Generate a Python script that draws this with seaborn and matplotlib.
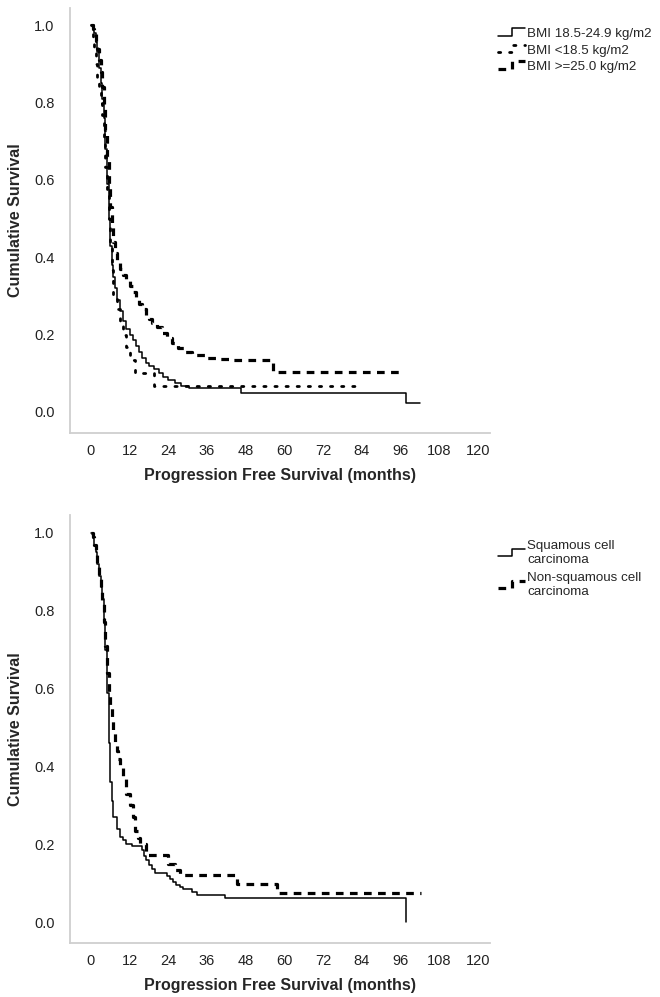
import numpy as np
import pandas as pd
import matplotlib
matplotlib.use("Agg")
import matplotlib.pyplot as plt
import seaborn as sns
from matplotlib.lines import Line2D
from matplotlib.legend_handler import HandlerLine2D
from matplotlib.ticker import FormatStrFormatter

# ---------------- data ----------------
# Top panel: BMI groups
bmi_normal_t = [0, 0.5, 1.0, 1.5, 2.0, 2.5, 3.0, 3.5, 4.0, 4.5, 5.0, 5.5, 6.0, 6.5, 7.0, 7.5, 8.0,
                9.0, 10.0, 11.0, 12.0, 13.0, 14.0, 15.0, 16.0, 17.0, 18.0, 19.5, 21.0, 22.5, 24.0,
                26.0, 28.0, 30.5, 46.7, 97.7, 102.0]
bmi_normal_s = [1.0, 0.99, 0.98, 0.96, 0.93, 0.89, 0.85, 0.81, 0.76, 0.68, 0.59, 0.50, 0.43, 0.38,
                0.35, 0.32, 0.29, 0.26, 0.235, 0.215, 0.20, 0.185, 0.17, 0.155, 0.14, 0.126, 0.118,
                0.112, 0.10, 0.09, 0.082, 0.075, 0.068, 0.061, 0.049, 0.024, 0.024]

bmi_under_t = [0, 0.5, 1.0, 1.5, 2.0, 2.5, 3.0, 3.5, 4.0, 4.5, 5.0, 5.5, 6.0, 6.5, 7.0, 8.0, 9.0,
               10.0, 11.0, 12.0, 13.6, 19.5, 82.0]
bmi_under_s = [1.0, 0.967, 0.933, 0.9, 0.867, 0.833, 0.8, 0.767, 0.7, 0.633, 0.567, 0.5, 0.433,
               0.367, 0.3, 0.267, 0.233, 0.2, 0.167, 0.133, 0.1, 0.067, 0.067]

bmi_over_t = [0, 0.5, 1, 1.5, 2, 2.5, 3, 3.5, 4, 4.5, 5, 5.5, 6, 6.5, 7, 7.5, 8, 9, 10, 11, 12,
              13, 14, 15, 16, 17, 18, 19, 20.5, 22, 23.5, 25, 27, 29, 31.5, 36, 40, 44, 56.5, 96]
bmi_over_s = [1, 0.99, 0.98, 0.96, 0.94, 0.91, 0.88, 0.84, 0.79, 0.73, 0.66, 0.59, 0.53, 0.48,
              0.44, 0.41, 0.39, 0.37, 0.355, 0.34, 0.325, 0.31, 0.295, 0.28, 0.265, 0.25, 0.24,
              0.23, 0.22, 0.205, 0.19, 0.178, 0.165, 0.155, 0.147, 0.14, 0.137, 0.134, 0.104, 0.104]

# Bottom panel: histology
squam_t = [0, 0.5, 1, 1.5, 2, 2.5, 3, 3.5, 4, 4.5, 5, 5.5, 6, 6.5, 7, 8, 9, 10, 11, 12.6, 15.7,
           16.5, 17.2, 18, 19, 19.8, 23.5, 24.5, 25.5, 26.5, 27.5, 28.5, 31.2, 32.8, 41.5, 97.7]
squam_s = [1, 0.99, 0.97, 0.95, 0.92, 0.89, 0.86, 0.83, 0.78, 0.70, 0.59, 0.46, 0.36, 0.31,
           0.27, 0.24, 0.22, 0.21, 0.20, 0.195, 0.185, 0.17, 0.16, 0.148, 0.137, 0.125, 0.118,
           0.11, 0.102, 0.095, 0.09, 0.085, 0.077, 0.069, 0.062, 0.0]

nonsquam_t = [0, 0.5, 1, 1.5, 2, 2.5, 3, 3.5, 4, 4.5, 5, 5.5, 6, 6.5, 7, 7.5, 8, 8.5, 9, 10, 11,
              12, 13, 13.6, 14.5, 15.2, 17.0, 24.0, 26.0, 27.5, 45.2, 57.6, 102.5]
nonsquam_s = [1, 0.99, 0.97, 0.95, 0.92, 0.89, 0.86, 0.82, 0.77, 0.71, 0.64, 0.59, 0.55, 0.52,
              0.49, 0.46, 0.44, 0.42, 0.40, 0.37, 0.33, 0.30, 0.27, 0.235, 0.215, 0.20, 0.172,
              0.15, 0.135, 0.12, 0.099, 0.074, 0.074]

top_labels = ["BMI 18.5-24.9 kg/m2", "BMI <18.5 kg/m2", "BMI >=25.0 kg/m2"]
bottom_labels = ["Squamous cell\ncarcinoma", "Non-squamous cell\ncarcinoma"]
x_ticks = [0, 12, 24, 36, 48, 60, 72, 84, 96, 108, 120]
y_ticks = [0.0, 0.2, 0.4, 0.6, 0.8, 1.0]
x_label = "Progression Free Survival (months)"
y_label = "Cumulative Survival"

# ---------------- styling ----------------
sns.set_style("white")
plt.rcParams["font.family"] = ["Liberation Sans", "DejaVu Sans"]

SOLID = dict(linestyle="-", linewidth=1.1)
DOTTED = dict(linestyle=(0, (0.8, 3.2)), linewidth=2.0, dash_capstyle="round")
DASHED = dict(linestyle=(0, (2.4, 2.0)), linewidth=2.3)


class StepHandler(HandlerLine2D):
    def create_artists(self, legend, orig_handle, xdescent, ydescent, width, height,
                       fontsize, trans):
        x0 = -xdescent
        lo = -ydescent + height * 0.15
        hi = -ydescent + height * 0.95
        xs = [x0, x0 + width * 0.5, x0 + width * 0.5, x0 + width]
        ys = [lo, lo, hi, hi]
        ln = Line2D(xs, ys)
        self.update_prop(ln, orig_handle, legend)
        ln.set_transform(trans)
        return [ln]


fig = plt.figure(figsize=(6.6, 9.97), dpi=100)
ax_top = fig.add_axes([0.106, 0.566, 0.636, 0.426])
ax_bot = fig.add_axes([0.106, 0.054, 0.636, 0.429])


def km(ax, t, s, label, style):
    df = pd.DataFrame({"time": t, "surv": s})
    sns.lineplot(data=df, x="time", y="surv", ax=ax, estimator=None, sort=False,
                 drawstyle="steps-post", color="black", label=label, **style)


km(ax_top, bmi_normal_t, bmi_normal_s, top_labels[0], SOLID)
km(ax_top, bmi_under_t, bmi_under_s, top_labels[1], DOTTED)
km(ax_top, bmi_over_t, bmi_over_s, top_labels[2], DASHED)

km(ax_bot, squam_t, squam_s, bottom_labels[0], SOLID)
km(ax_bot, nonsquam_t, nonsquam_s, bottom_labels[1], DASHED)

for ax in (ax_top, ax_bot):
    ax.set_xlim(-6.5, 123.7)
    ax.set_ylim(-0.054, 1.045)
    ax.set_xticks(x_ticks)
    ax.set_yticks(y_ticks)
    ax.yaxis.set_major_formatter(FormatStrFormatter("%.1f"))
    for side in ("top", "right"):
        ax.spines[side].set_visible(False)
    for side in ("left", "bottom"):
        ax.spines[side].set_color("#cfcfcf")
        ax.spines[side].set_linewidth(1.3)
    ax.tick_params(axis="both", direction="out", length=5, width=1.3, color="#333333",
                   labelsize=10.5, labelcolor="#222222", pad=3)
    ax.tick_params(axis="y", pad=6)
    ax.set_xlabel(x_label, fontsize=11.5, fontweight="bold", labelpad=7)
    ax.set_ylabel(y_label, fontsize=11.5, fontweight="bold", labelpad=8)

h, l = ax_top.get_legend_handles_labels()
ax_top.legend(h, l, loc="upper left", bbox_to_anchor=(0.755, 0.972),
              bbox_transform=fig.transFigure, frameon=False, fontsize=9.6,
              handlelength=2.0, handletextpad=0.15, labelspacing=0.3,
              borderpad=0, borderaxespad=0,
              handler_map={Line2D: StepHandler()})
h, l = ax_bot.get_legend_handles_labels()
ax_bot.legend(h, l, loc="upper left", bbox_to_anchor=(0.755, 0.458),
              bbox_transform=fig.transFigure, frameon=False, fontsize=9.6,
              handlelength=2.0, handletextpad=0.15, labelspacing=0.45,
              borderpad=0, borderaxespad=0,
              handler_map={Line2D: StepHandler()})

fig.savefig("out.png", dpi=100)
